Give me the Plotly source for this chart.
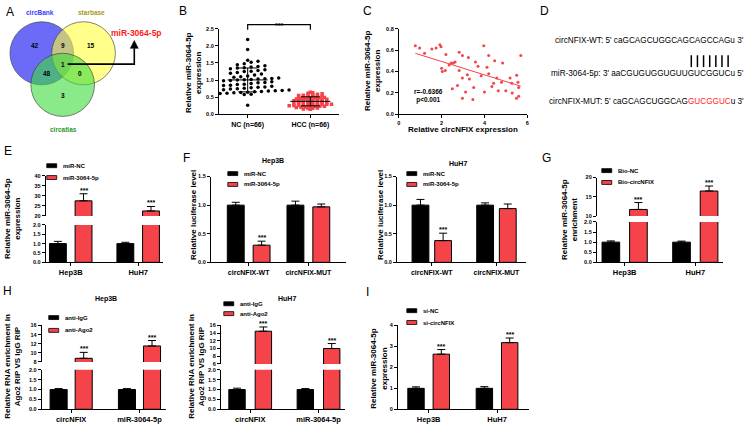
import numpy as np
import plotly.graph_objects as go

W, H = 750, 432
FONT = "Arial, 'Liberation Sans', sans-serif"
RED = "#f5434a"

# ---------------- data ----------------
# A: overlap of predicted miRNAs
venn_names = ["circBank", "starbase", "circatlas"]
venn_regions = ["100", "010", "001", "110", "101", "011", "111"]
venn_counts = [42, 15, 3, 9, 48, 0, 1]
venn_hit = "miR-3064-5p"

# B: miR-3064-5p in tissues
b_groups = ["NC (n=66)", "HCC (n=66)"]
b_nc = [2.18, 1.89, 1.58, 1.55, 1.52, 1.48, 1.45, 1.42, 1.40, 1.38,
        1.36, 1.35, 1.33, 1.30, 1.28, 1.25, 1.22, 1.20, 1.18, 1.15,
        1.12, 1.10, 1.08, 1.06, 1.05, 1.04, 1.02, 1.00, 0.99, 0.98,
        0.96, 0.95, 0.93, 0.92, 0.90, 0.88, 0.87, 0.85, 0.84, 0.82,
        0.80, 0.79, 0.78, 0.76, 0.75, 0.74, 0.72, 0.71, 0.70, 0.69,
        0.68, 0.67, 0.66, 0.65, 0.64, 0.63, 0.62, 0.61, 0.60, 0.60,
        0.59, 0.58, 1.03, 1.26, 0.27, 1.01]
b_hcc = [0.65, 0.63, 0.62, 0.60, 0.59, 0.58, 0.57, 0.56, 0.55, 0.54,
         0.53, 0.52, 0.51, 0.50, 0.50, 0.49, 0.48, 0.47, 0.46, 0.46,
         0.45, 0.44, 0.43, 0.43, 0.42, 0.41, 0.40, 0.40, 0.39, 0.38,
         0.38, 0.37, 0.36, 0.36, 0.35, 0.34, 0.34, 0.33, 0.32, 0.32,
         0.31, 0.30, 0.30, 0.29, 0.28, 0.28, 0.27, 0.26, 0.26, 0.25,
         0.24, 0.24, 0.23, 0.22, 0.22, 0.21, 0.20, 0.19, 0.18, 0.17,
         0.16, 0.15, 0.41, 0.35, 0.29, 0.48]

# C: correlation circNFIX vs miR-3064-5p
c_circ = [0.77, 0.97, 1.2, 1.54, 1.74, 1.92, 1.97, 2.2, 2.0, 2.03, 2.17, 2.35,
          2.45, 2.55, 2.63, 2.82, 2.97, 2.82, 2.97, 3.2, 3.3, 3.25, 3.58, 3.5,
          2.97, 3.46, 2.74, 2.5, 3.12, 3.97, 4.12, 4.2, 4.0, 4.35, 4.48, 4.2,
          4.43, 4.58, 5.7, 4.85, 5.51, 5.28, 5.57, 5.0, 5.3, 5.5, 5.6, 5.6,
          5.2, 4.8, 3.7, 4.65, 3.85]
c_mir = [0.64, 0.62, 0.57, 0.61, 0.62, 0.65, 0.63, 0.56, 0.43, 0.40, 0.41, 0.46,
         0.48, 0.48, 0.49, 0.58, 0.55, 0.41, 0.34, 0.37, 0.33, 0.53, 0.49, 0.25,
         0.15, 0.14, 0.27, 0.24, 0.21, 0.64, 0.44, 0.38, 0.21, 0.26, 0.50, 0.55,
         0.29, 0.34, 0.55, 0.48, 0.365, 0.29, 0.30, 0.22, 0.20, 0.15, 0.17, 0.25,
         0.34, 0.30, 0.45, 0.22, 0.36]
c_stats = "r=-0.6366<br>p<0.001"

# D: binding sites
d_lines = ["circNFIX-WT: 5' caGCAGCUGGCAGCAGCCAGu 3'",
           "miR-3064-5p: 3' aaCGUGUGGUGUUGUCGGUCu 5'",
           "circNFIX-MUT: 5' caGCAGCUGGCAG<span style='color:#ff1f1f'>GUCGGUC</span>u 3'"]
d_pairs = 7

# E-I: bar panels
cells = ["Hep3B", "HuH7"]
e_nc, e_nc_sd = [1.0, 1.0], [0.12, 0.07]
e_mir, e_mir_sd = [27.5, 22.5], [3.5, 2.2]
e_sig = ["***", "***"]

f_sites = ["circNFIX-WT", "circNFIX-MUT"]
f_hep_nc, f_hep_nc_sd = [1.0, 1.0], [0.05, 0.07]
f_hep_mir, f_hep_mir_sd = [0.30, 0.97], [0.07, 0.05]
f_huh_nc, f_huh_nc_sd = [1.0, 1.0], [0.10, 0.04]
f_huh_mir, f_huh_mir_sd = [0.38, 0.94], [0.13, 0.08]
f_sig = ["***", ""]

g_nc, g_nc_sd = [1.0, 1.0], [0.06, 0.05]
g_bio, g_bio_sd = [11.7, 16.5], [1.8, 1.3]
g_sig = ["***", "***"]

h_rna = ["circNFIX", "miR-3064-5p"]
h_hep_igg, h_hep_igg_sd = [1.0, 1.0], [0.05, 0.05]
h_hep_ago, h_hep_ago_sd = [8.8, 11.5], [1.3, 1.2]
h_huh_igg, h_huh_igg_sd = [1.0, 1.0], [0.07, 0.05]
h_huh_ago, h_huh_ago_sd = [14.5, 10.0], [1.1, 1.3]
h_sig = ["***", "***"]

i_nc, i_nc_sd = [1.0, 1.0], [0.07, 0.08]
i_si, i_si_sd = [2.63, 3.18], [0.22, 0.22]
i_sig = ["***", "***"]


# ---------------- helpers ----------------
def px(x):
    return x / W


def py(y):
    return 1 - y / H


fig = go.Figure()
lay, ann, shp = {}, [], []
counter = {"x": 0, "y": 0}
TICKFONT = dict(family=FONT, size=5.5, color="black", weight="bold")


def new_axis(kind):
    counter[kind] += 1
    s = "" if counter[kind] == 1 else str(counter[kind])
    return kind + s, kind + "axis" + s


def axis_style(**kw):
    d = dict(showline=True, linecolor="black", linewidth=1, ticks="outside", ticklen=3,
             tickwidth=1, tickcolor="black", showgrid=False, zeroline=False,
             tickfont=TICKFONT, fixedrange=True)
    d.update(kw)
    return d


def panel(left, right, xrange, segs, tickvals, ticktext=None, xfont=7.5):
    xn, xkey = new_axis("x")
    ys = []
    for top, bottom, yr, yt, fmt in segs:
        yn, ykey = new_axis("y")
        lay[ykey] = axis_style(domain=[py(bottom), py(top)], range=yr, tickvals=yt,
                               tickformat=fmt, anchor=xn)
        ys.append(yn)
    lay[xkey] = axis_style(domain=[px(left), px(right)], range=xrange, anchor=ys[0],
                           tickvals=tickvals, ticktext=ticktext,
                           tickfont=dict(TICKFONT, size=xfont))
    return xn, ys


def label(x, y, s, size=7, bold=True, color="black", xanchor="center", angle=0):
    ann.append(dict(x=px(x), y=py(y), xref="paper", yref="paper", text=s, showarrow=False,
                    xanchor=xanchor, yanchor="middle", textangle=angle,
                    font=dict(family=FONT, size=size, color=color,
                              weight="bold" if bold else "normal")))


def legend(x, y0, names, dy=12):
    for i, (n, c) in enumerate(zip(names, ["black", RED])):
        y = y0 + i * dy
        shp.append(dict(type="rect", xref="paper", yref="paper", x0=px(x), x1=px(x + 10),
                        y0=py(y + 2), y1=py(y - 2), fillcolor=c,
                        line=dict(color="black", width=0.8)))
        label(x + 14, y, n, size=6, xanchor="left")


def bars(xn, ys, ctrl, ctrl_sd, trt, trt_sd, sig, w, g):
    xs = np.arange(len(ctrl))
    for yn in ys:
        for vals, sd, col, off in [(ctrl, ctrl_sd, "black", -(w + g / 2)), (trt, trt_sd, RED, g / 2)]:
            fig.add_trace(go.Bar(
                x=xs, y=vals, width=w, offset=off,
                marker=dict(color=col, line=dict(color="black", width=1)),
                error_y=dict(type="data", array=sd, arrayminus=[0] * len(sd), symmetric=False,
                             color="black", thickness=1, width=4),
                xaxis=xn, yaxis=yn, showlegend=False, hoverinfo="skip"))
    for i, (v, e, s) in enumerate(zip(trt, trt_sd, sig)):
        if s:
            ann.append(dict(x=i + g / 2 + w / 2, y=v + e, xref=xn, yref=ys[-1], text=s,
                            showarrow=False, yanchor="bottom", yshift=-2,
                            font=dict(family=FONT, size=7, color="black", weight="bold")))


def swarm(vals, bin_h, dx):
    vals = np.asarray(vals)
    bins = np.floor(vals / bin_h).astype(int)
    off = np.zeros(len(vals))
    for b in np.unique(bins):
        idx = np.where(bins == b)[0]
        idx = idx[np.argsort(vals[idx])]
        off[idx] = (np.arange(len(idx)) - (len(idx) - 1) / 2) * dx
    return off


# ---------------- A: Venn ----------------
circles = [(40, 51, "rgba(70,70,245,0.8)"), (82, 51, "rgba(255,255,60,0.6)"),
           (61, 83, "rgba(60,220,60,0.6)")]
for cx, cy, col in circles:
    shp.append(dict(type="circle", xref="paper", yref="paper", x0=px(cx - 32), x1=px(cx + 32),
                    y0=py(cy + 32), y1=py(cy - 32), fillcolor=col,
                    line=dict(color="rgba(60,60,60,0.8)", width=0.8)))
region_pos = {"100": (33, 43), "010": (89, 43), "001": (61, 94), "110": (61, 43),
              "101": (45, 72), "011": (78, 72), "111": (61, 62)}
for r, n in zip(venn_regions, venn_counts):
    label(*region_pos[r], str(n), size=6.5)
for name, pos, col in zip(venn_names, [(38, 10), (90, 10), (62, 128)],
                          ["#3a3aff", "#a49a2a", "#2a9a2a"]):
    label(*pos, name, size=6.5, color=col)
shp.append(dict(type="path", xref="paper", yref="paper",
                path=f"M {px(66)},{py(62)} L {px(133)},{py(62)} L {px(133)},{py(46)}",
                line=dict(color="black", width=1.6)))
shp.append(dict(type="path", xref="paper", yref="paper",
                path=f"M {px(129)},{py(46)} L {px(137)},{py(46)} L {px(133)},{py(38)} Z",
                fillcolor="black", line=dict(color="black", width=0.5)))
label(135, 30, venn_hit, size=8.5, color="#ff1a1a")

# ---------------- B ----------------
xb, (yb,) = panel(218, 339, [-0.46, 1.46],
                  [(26, 113, [0, 2.5], [0, 0.5, 1, 1.5, 2, 2.5], ".1f")], [0, 1], b_groups, xfont=7)
for pos, vals, col, sym, bh, dx in [(0, b_nc, "black", "circle", 0.12, 0.11),
                                    (1, b_hcc, RED, "square", 0.05, 0.075)]:
    fig.add_trace(go.Scatter(x=pos + swarm(vals, bh, dx), y=vals, mode="markers",
                             marker=dict(size=3.5, color=col, symbol=sym),
                             xaxis=xb, yaxis=yb, showlegend=False))
    m, s = np.mean(vals), np.std(vals, ddof=1)
    fig.add_trace(go.Scatter(
        x=[pos - 0.32, pos + 0.32, None, pos, pos, None, pos - 0.15, pos + 0.15, None, pos - 0.15, pos + 0.15],
        y=[m, m, None, m - s, m + s, None, m + s, m + s, None, m - s, m - s],
        mode="lines", line=dict(color="black", width=1), xaxis=xb, yaxis=yb, showlegend=False))
shp.append(dict(type="path", xref=xb, yref="paper",
                path=f"M 0,{py(27)} L 0,{py(22)} L 1,{py(22)} L 1,{py(27)}",
                line=dict(color="black", width=1.2)))
ann.append(dict(x=0.5, y=py(17), xref=xb, yref="paper", text="***", showarrow=False,
                font=dict(family=FONT, size=7, color="black", weight="bold")))
label(192, 70, "Relative miR-3064-5p<br>expression", size=8, angle=-90)

# ---------------- C ----------------
xc, (yc,) = panel(399, 528, [0, 6], [(26, 113, [0, 0.8], [0, 0.2, 0.4, 0.6, 0.8], ".1f")],
                  [0, 2, 4, 6], xfont=5.5)
fig.add_trace(go.Scatter(x=c_circ, y=c_mir, mode="markers", marker=dict(size=3, color=RED),
                         xaxis=xc, yaxis=yc, showlegend=False))
k, b0 = np.polyfit(c_circ, c_mir, 1)
fx = np.array([min(c_circ), max(c_circ)])
fig.add_trace(go.Scatter(x=fx, y=k * fx + b0, mode="lines", line=dict(color=RED, width=1),
                         xaxis=xc, yaxis=yc, showlegend=False))
label(412, 94, c_stats, size=6.5, xanchor="left")
label(463, 128, "Relative circNFIX expression", size=8)
label(372, 69, "Relative miR-3064-5p<br>expression", size=8, angle=-90)

# ---------------- D ----------------
for y, s in zip([38, 72, 100], d_lines):
    label(748, y, s, size=8.2, bold=False, xanchor="right")
for x in np.linspace(693, 730, d_pairs):
    shp.append(dict(type="line", xref="paper", yref="paper", x0=px(x), x1=px(x),
                    y0=py(53), y1=py(65), line=dict(color="black", width=1.5)))

# ---------------- E ----------------
xe, ye = panel(44, 162, [-0.37, 1.37],
               [(225, 263, [0, 2], [0, 0.5, 1, 1.5, 2], ".1f"),
                (175, 216, [20, 40], [20, 25, 30, 35, 40], "d")], [0, 1], cells)
bars(xe, ye, e_nc, e_nc_sd, e_mir, e_mir_sd, e_sig, 0.25, 0.13)
legend(45, 165, ["miR-NC", "miR-3064-5p"])
label(11, 218, "Relative miR-3064-5p<br>expression", size=8, angle=-90)

# ---------------- F ----------------
xf1, yf1 = panel(210, 346, [-0.633, 1.633],
                 [(176, 263, [0, 1.5], [0, 0.5, 1, 1.5], ".1f")], [0, 1], f_sites, xfont=7)
bars(xf1, yf1, f_hep_nc, f_hep_nc_sd, f_hep_mir, f_hep_mir_sd, f_sig, 0.283, 0.15)
legend(227, 173, ["miR-NC", "miR-3064-5p"], dy=11)
label(272, 160, "Hep3B", size=7)
label(192, 215, "Relative luciferase level", size=8, angle=-90)

xf2, yf2 = panel(397, 527, [-0.54, 1.46],
                 [(176, 263, [0, 1.5], [0, 0.5, 1, 1.5], ".1f")], [0, 1], f_sites, xfont=7)
bars(xf2, yf2, f_huh_nc, f_huh_nc_sd, f_huh_mir, f_huh_mir_sd, f_sig, 0.26, 0.09)
legend(407, 173, ["miR-NC", "miR-3064-5p"], dy=11)
label(458, 163, "HuH7", size=7)
label(380, 215, "Relative luciferase level", size=8, angle=-90)

# ---------------- G ----------------
xg, yg = panel(598, 725, [-0.394, 1.394],
               [(222, 263, [0, 2], [0, 0.5, 1, 1.5, 2], ".1f"),
                (177, 216, [10, 20], [10, 15, 20], "d")], [0, 1], cells)
bars(xg, yg, g_nc, g_nc_sd, g_bio, g_bio_sd, g_sig, 0.25, 0.14)
legend(603, 170, ["Bio-NC", "Bio-circNFIX"])
label(571, 219, "Relative miR-3064-5p<br>enrichment", size=8, angle=-90)

# ---------------- H ----------------
xh1, yh1 = panel(40, 165, [-0.43, 1.39],
                 [(372, 412, [0, 2], [0, 0.5, 1, 1.5, 2], ".1f"),
                  (327, 364, [8, 16], [8, 10, 12, 14, 16], "d")], [0, 1], h_rna)
bars(xh1, yh1, h_hep_igg, h_hep_igg_sd, h_hep_ago, h_hep_ago_sd, h_sig, 0.25, 0.117)
legend(47, 319, ["anti-IgG", "anti-Ago2"], dy=13)
label(105, 300, "Hep3B", size=7)
label(11, 368, "Relative RNA enrichment in<br>Ago2 RIP VS IgG RIP", size=8, angle=-90)

xh2, yh2 = panel(220, 345, [-0.43, 1.39],
                 [(372, 412, [0, 2], [0, 0.5, 1, 1.5, 2], ".1f"),
                  (327, 366, [6, 16], [6, 8, 10, 12, 14, 16], "d")], [0, 1], h_rna)
bars(xh2, yh2, h_huh_igg, h_huh_igg_sd, h_huh_ago, h_huh_ago_sd, h_sig, 0.24, 0.146)
legend(223, 305, ["anti-IgG", "anti-Ago2"], dy=10)
label(287, 300, "HuH7", size=7)
label(196, 368, "Relative RNA enrichment in<br>Ago2 RIP VS IgG RIP", size=8, angle=-90)

# ---------------- I ----------------
xi, yi = panel(398, 530, [-0.45, 1.47],
               [(327, 412, [0, 4], [0, 1, 2, 3, 4], "d")], [0, 1], cells)
bars(xi, yi, i_nc, i_nc_sd, i_si, i_si_sd, i_sig, 0.24, 0.13)
legend(407, 312, ["si-NC", "si-circNFIX"])
label(379, 370, "Relative miR-3064-5p<br>expression", size=8, angle=-90)

# ---------------- panel letters ----------------
for letter, x, y in [("A", 8, 9), ("B", 182, 8), ("C", 367, 8), ("D", 545, 8),
                     ("E", 6, 150), ("F", 185, 157), ("G", 547, 157),
                     ("H", 6, 292), ("I", 367, 293)]:
    label(x, y, letter, size=12, bold=False)

fig.update_layout(width=W, height=H, margin=dict(l=0, r=0, t=0, b=0),
                  paper_bgcolor="white", plot_bgcolor="rgba(0,0,0,0)", showlegend=False,
                  barmode="overlay", annotations=ann, shapes=shp,
                  font=dict(family=FONT, color="black"), **lay)
# page body has a default 8px margin; drop it so the figure sits at the corner
fig.write_html("out.html", config={"displayModeBar": False},
               post_script="document.body.style.margin = '0';")
